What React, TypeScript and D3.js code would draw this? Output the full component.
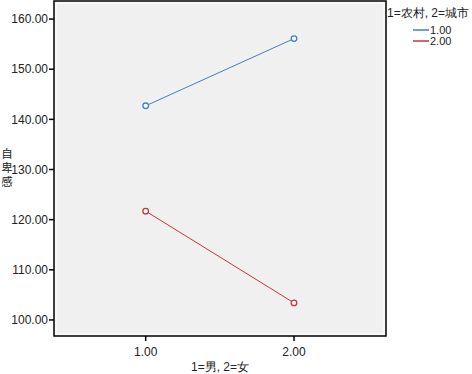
import React from "react";
import * as d3 from "d3";

// gender groups on x, two series (rural / urban)
const xValues = [1, 2];
const xTicks = [1, 2];
const yTicks = [100, 110, 120, 130, 140, 150, 160];
const ruralValues = [142.7, 156.1];
const urbanValues = [121.7, 103.4];
const seriesNames = ["1.00", "2.00"];
const seriesColors = ["#3f7fc6", "#c9363c"];
const yLabel = "自卑感";

const W = 472;
const H = 374;
const plot = { left: 54, right: 386, top: 1, bottom: 336 };
const font = "'Liberation Sans', Arial, sans-serif";

export default function App() {
  const x = d3.scaleLinear().domain([0.382, 2.62]).range([plot.left, plot.right]);
  const y = d3.scaleLinear().domain([96.8, 163.6]).range([plot.bottom, plot.top]);
  const line = d3.line<number>().x((d, i) => x(xValues[i])).y((d) => y(d));
  const series = [ruralValues, urbanValues];

  return (
    <svg width={W} height={H} style={{ position: "absolute", left: 0, top: 0 }}>
      <rect x={0} y={0} width={W} height={H} fill="white" />
      <rect x={plot.left} y={plot.top} width={plot.right - plot.left}
        height={plot.bottom - plot.top} fill="#f0f0f0" />
      <rect x={plot.left + 2} y={plot.top + 2} width={plot.right - plot.left - 4}
        height={plot.bottom - plot.top - 4} fill="none" stroke="white" strokeWidth={1} />
      <rect x={plot.left} y={plot.top} width={plot.right - plot.left}
        height={plot.bottom - plot.top} fill="none" stroke="black" strokeWidth={1.5} />

      {yTicks.map((t) => (
        <g key={t}>
          <line x1={plot.left - 5} x2={plot.left} y1={y(t)} y2={y(t)} stroke="black" strokeWidth={1.5} />
          <text x={plot.left - 6} y={y(t)} dy="0.35em" textAnchor="end"
            fontFamily={font} fontSize={12} fill="#222">{t.toFixed(2)}</text>
        </g>
      ))}
      {xTicks.map((t) => (
        <g key={t}>
          <line x1={x(t)} x2={x(t)} y1={plot.bottom} y2={plot.bottom + 5} stroke="black" strokeWidth={1.5} />
          <text x={x(t)} y={plot.bottom + 20} textAnchor="middle"
            fontFamily={font} fontSize={12} fill="#222">{t.toFixed(2)}</text>
        </g>
      ))}

      {series.map((s, i) => (
        <g key={i}>
          <path d={line(s) || ""} fill="none" stroke={seriesColors[i]} strokeWidth={1} />
          {s.map((v, j) => (
            <circle key={j} cx={x(xValues[j])} cy={y(v)} r={2.8}
              fill="white" stroke={seriesColors[i]} strokeWidth={1.3} />
          ))}
        </g>
      ))}

      <text x={220} y={371} textAnchor="middle" fontFamily={font} fontSize={12} fill="#222">
        1=男, 2=女
      </text>
      <text x={7} y={148} fontFamily="'Noto Sans CJK SC', sans-serif" fontSize={11.5}
        letterSpacing={2.5} fill="#222" style={{ writingMode: "vertical-rl" }}>
        {yLabel}
      </text>

      <text x={387} y={17} fontFamily={font} fontSize={12} fill="#222">1=农村, 2=城市</text>
      {seriesNames.map((n, i) => (
        <g key={n}>
          <line x1={413} x2={429} y1={30 + i * 11} y2={30 + i * 11} stroke={seriesColors[i]} strokeWidth={1.5} />
          <text x={430} y={30 + i * 11} dy="0.35em" fontFamily={font} fontSize={11} fill="#222">{n}</text>
        </g>
      ))}
    </svg>
  );
}
